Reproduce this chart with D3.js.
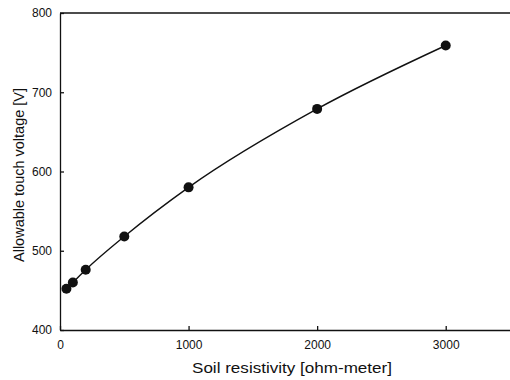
<!DOCTYPE html>
<meta charset="utf-8">
<style>
body { margin: 0; background: #fff; }
text { font-family: "Liberation Sans", Arial, sans-serif; fill: #111; }
.axis path, .axis line { stroke: #111; stroke-width: 1.3px; }
.axis text { font-size: 12px; }
.curve { fill: none; stroke: #111; stroke-width: 1.4px; }
.dot { fill: #111; }
</style>
<body>
<div id="main"></div>
<script src="https://d3js.org/d3.v7.min.js"></script>
<script>
// soil resistivity [ohm-meter] vs allowable touch voltage [V]
var resistivity = [50, 100, 200, 500, 1000, 2000, 3000];
var touchVoltage = [452, 460, 476, 518, 580, 679, 759];
var xTicks = [0, 1000, 2000, 3000];
var yTicks = [400, 500, 600, 700, 800];

var svg = d3.select("#main").append("svg")
	.attr("width", 510)
	.attr("height", 380);

var x = d3.scaleLinear().domain([0, 3500]).range([60, 510]);
var y = d3.scaleLinear().domain([400, 800]).range([330, 13]);

var points = resistivity.map(function(r, i) { return [r, touchVoltage[i]]; });

// bottom axis, ticks pointing inward
svg.append("g")
	.attr("class", "axis")
	.attr("transform", "translate(0,330)")
	.call(d3.axisBottom(x).tickValues(xTicks).tickFormat(d3.format("d"))
		.tickSizeInner(-4).tickSizeOuter(0).tickPadding(10));

// top frame line
svg.append("line")
	.attr("x1", x(0)).attr("x2", x(3500))
	.attr("y1", y(800)).attr("y2", y(800))
	.attr("stroke", "#111").attr("stroke-width", 1.3);

// left axis
svg.append("g")
	.attr("class", "axis")
	.attr("transform", "translate(60,0)")
	.call(d3.axisLeft(y).tickValues(yTicks).tickFormat(d3.format("d"))
		.tickSizeInner(-4).tickSizeOuter(0).tickPadding(8));

// smooth line through the points
var line = d3.line()
	.x(function(d) { return x(d[0]); })
	.y(function(d) { return y(d[1]); })
	.curve(d3.curveMonotoneX);

svg.append("path")
	.datum(points)
	.attr("class", "curve")
	.attr("d", line);

svg.selectAll(".dot")
	.data(points)
	.enter().append("circle")
	.attr("class", "dot")
	.attr("r", 5)
	.attr("cx", function(d) { return x(d[0]); })
	.attr("cy", function(d) { return y(d[1]); });

// axis titles
svg.append("text")
	.attr("x", 292)
	.attr("y", 373)
	.attr("text-anchor", "middle")
	.attr("textLength", 200)
	.attr("lengthAdjust", "spacingAndGlyphs")
	.style("font-size", "15px")
	.text("Soil resistivity [ohm-meter]");

svg.append("text")
	.attr("transform", "translate(24,175) rotate(-90)")
	.attr("text-anchor", "middle")
	.attr("textLength", 174)
	.attr("lengthAdjust", "spacingAndGlyphs")
	.style("font-size", "15px")
	.text("Allowable touch voltage [V]");
</script>
</body>
